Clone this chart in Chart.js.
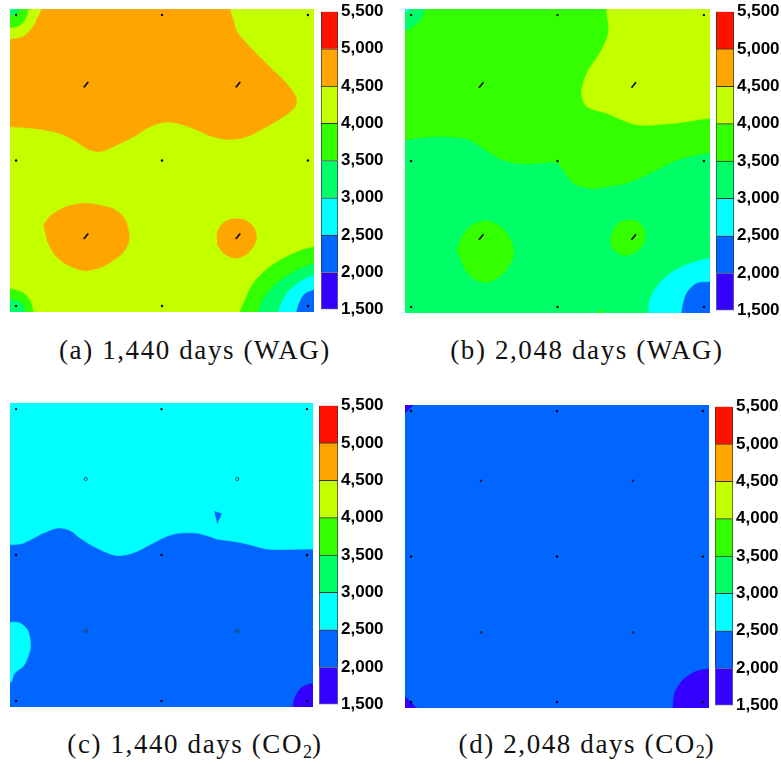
<!DOCTYPE html>
<html>
<head>
<meta charset="utf-8">
<script src="https://cdn.jsdelivr.net/npm/chart.js@4.4.1/dist/chart.umd.min.js"></script>
<style>
  body { margin: 0; background: #fff; width: 781px; height: 764px; position: relative; overflow: hidden; }
  .box { position: absolute; }
  .box canvas { display: block; }
  .cap {
    position: absolute; width: 390px; text-align: center; white-space: nowrap;
    font-family: 'Liberation Serif', 'Times New Roman', serif; font-size: 27px;
    letter-spacing: 1.6px; line-height: 30px; color: #111;
  }
  .cap sub { font-size: 18px; vertical-align: -5px; line-height: 0; letter-spacing: 0; }
</style>
</head>
<body>

<div class="box" style="left:10px;top:9px"><canvas id="mapA" width="304" height="303"></canvas></div>
<div class="box" style="left:321px;top:0px"><canvas id="barA" width="70" height="321"></canvas></div>
<div class="box" style="left:405px;top:9px"><canvas id="mapB" width="305" height="304"></canvas></div>
<div class="box" style="left:716px;top:0px"><canvas id="barB" width="65" height="322"></canvas></div>
<div class="box" style="left:10px;top:403px"><canvas id="mapC" width="303" height="304"></canvas></div>
<div class="box" style="left:319px;top:394px"><canvas id="barC" width="72" height="322"></canvas></div>
<div class="box" style="left:405px;top:405px"><canvas id="mapD" width="304" height="303"></canvas></div>
<div class="box" style="left:715px;top:395px"><canvas id="barD" width="66" height="322"></canvas></div>

<div class="cap" style="left:0px;top:335px">(a) 1,440 days (WAG)</div>
<div class="cap" style="left:392px;top:335px">(b) 2,048 days (WAG)</div>
<div class="cap" style="left:0px;top:729px">(c) 1,440 days (CO<sub>2</sub>)</div>
<div class="cap" style="left:392px;top:729px">(d) 2,048 days (CO<sub>2</sub>)</div>

<script>
'use strict';

// colour bands (contour levels)
const levels = [1500, 2000, 2500, 3000, 3500, 4000, 4500, 5000, 5500];
const bandColors = ['#3300FF', '#0066FF', '#00FFFF', '#00FF66', '#33FF00', '#C4FF00', '#FFA500', '#FF1100'];

// well locations (field coords 0..100)
const producers = [[2, 98], [50, 98], [98, 98], [2, 50], [50, 50], [98, 50], [2, 2], [50, 2], [98, 2]];
const injectors = [[25, 75], [75, 75], [25, 25], [75, 25]];

const fullField = [[-5, -5], [105, -5], [105, 105], [-5, 105]];

// ─── (a) 1,440 days WAG ─────────────────────────
const aOrangeTop = [[-5, 90], [0, 90], [4.4, 90.9], [7.7, 94.2], [9.3, 97.5], [10.4, 100], [10.6, 105], [72.4, 105],
  [72.4, 100], [73.5, 96.4], [74.6, 92.5], [80.0, 86.4], [86.6, 79.8], [91.0, 75.4], [94.0, 71.0], [93.8, 67.7],
  [89.9, 64.4], [84.4, 61.1], [77.9, 57.8], [72.4, 56.9], [66.9, 57.8], [60.3, 60.6], [54.8, 62.3], [50.4, 62.6],
  [45.0, 60.6], [40.6, 57.8], [35.1, 55.1], [29.6, 52.9], [25.2, 54.0], [21.9, 56.2], [16.4, 59.0], [7.7, 60.6],
  [0, 61.1], [-5, 61.1]];
const aGreenTL = [[-5, 93.8], [0, 93.8], [3, 94.5], [5, 96.5], [6, 100], [6, 105], [-5, 105]];
const aSpringTL = [[-5, 98], [0, 98], [2, 98.5], [3.3, 100], [3.3, 105], [-5, 105]];
const aOrangeLL = [[11.0, 28.6], [14.3, 32.5], [21.9, 35.6], [29.6, 35.2], [36.2, 32.5], [38.9, 27.0], [38.4, 21.5],
  [34.0, 17.1], [27.4, 14.0], [21.9, 14.3], [15.4, 18.2], [12.1, 23.7]];
const aOrangeLR = [[68.0, 25.9], [70.2, 29.4], [74.6, 30.8], [78.4, 29.7], [80.9, 25.9], [80.0, 21.5], [75.7, 18.0],
  [71.3, 18.7], [68.2, 22.0]];
const aGreenBR = [[105, 21.5], [100, 21.5], [93.2, 19.3], [85.5, 14.9], [80.0, 9.4], [77.3, 3.9], [75.7, 0], [75.7, -5], [105, -5]];
const aSpringBR = [[105, 16.0], [100, 16.0], [93.2, 13.2], [87.7, 9.4], [83.3, 4.4], [81.7, 0], [81.7, -5], [105, -5]];
const aCyanBR = [[105, 12.1], [100, 12.1], [95.4, 9.9], [91.0, 6.1], [88.3, 0], [88.3, -5], [105, -5]];
const aBlueBR = [[105, 7.2], [100, 7.2], [96.5, 5.5], [94.3, 0], [94.3, -5], [105, -5]];
const aGreenBL = [[-5, 7.6], [0, 7.6], [4, 6.5], [6.5, 4], [7.6, 0], [7.6, -5], [-5, -5]];
const aSpringBL = [[-5, 4], [0, 4], [3, 3.5], [4.5, 2], [5, 0], [5, -5], [-5, -5]];

// ─── (b) 2,048 days WAG ─────────────────────────
const bGreenTop = [[-5, 56.9], [0, 56.9], [6.0, 57.8], [14.8, 58.0], [21.3, 56.9], [25.7, 54.1], [31.1, 50.8],
  [36.6, 49.2], [43.2, 49.2], [49.7, 49.5], [51.9, 47.0], [55.2, 42.6], [60.7, 41.0], [66.1, 41.5], [73.8, 43.1],
  [82.5, 47.0], [89.1, 50.3], [95.6, 52.0], [100, 52.7], [105, 52.7], [105, 105], [-5, 105]];
const bYellowTR = [[66.1, 105], [66.1, 100], [66.7, 92.1], [63.9, 85.5], [59.6, 78.9], [57.9, 72.3], [59.6, 67.9],
  [66.1, 65.7], [76.0, 61.9], [88.0, 62.4], [100, 64.1], [105, 64.1], [105, 105]];
const bSpringTL = [[-5, 93], [0, 93], [3, 94.5], [5.5, 97], [6.6, 100], [6.6, 105], [-5, 105]];
const bCyanTL = [[-5, 99], [0, 99], [1.5, 100], [1.5, 105], [-5, 105]];
const bGreenLL = [[16.9, 20.7], [20.2, 27.3], [24.6, 30.0], [29.0, 29.7], [33.3, 26.2], [35.5, 20.7], [33.9, 15.2],
  [29.0, 10.8], [24.0, 10.5], [19.7, 14.1]];
const bGreenLR = [[67.2, 24.0], [69.4, 28.9], [73.2, 30.5], [77.0, 29.5], [78.7, 25.1], [76.5, 20.7], [71.6, 19.0],
  [67.8, 21.2]];
const bCyanBR = [[105, 17.9], [100, 17.9], [93.4, 16.3], [86.9, 13.0], [82.5, 8.6], [80.3, 4.2], [79.8, 0], [79.8, -5], [105, -5]];
const bBlueBR = [[105, 10.2], [100, 10.2], [95.6, 9.7], [92.3, 6.4], [90.7, 0], [90.7, -5], [105, -5]];
const bGreenBottom = [[63, -1], [64.5, 1.3], [66, -1]];

// ─── (c) 1,440 days CO2 ─────────────────────────
const cCyanTop = [[-5, 53.4], [0, 53.4], [4.4, 53.9], [11.0, 57.2], [15.9, 58.9], [19.8, 58.1], [23.1, 55.6],
  [28.6, 52.3], [35.2, 49.8], [40.7, 50.7], [46.2, 53.4], [51.6, 56.1], [56.0, 57.2], [61.5, 57.2], [65.9, 56.1],
  [68.1, 55.3], [73.6, 54.5], [79.1, 53.4], [84.6, 52.0], [90.1, 51.8], [100, 52.0], [105, 52.0], [105, 105], [-5, 105]];
const cBlueDrop = [[67.4, 64.4], [69.8, 63.6], [68.4, 60.3]];
const cCyanLeft = [[-5, 27.9], [0, 27.9], [3.3, 27.6], [6.0, 24.9], [6.8, 20.0], [6.0, 16.7], [4.4, 13.4],
  [1.6, 11.2], [0, 7.9], [-5, 7.9]];
const cVioletBR = [[105, 7.7], [100, 7.7], [96.2, 6.3], [94.0, 3.0], [93.4, 0], [93.4, -5], [105, -5]];

// ─── (d) 2,048 days CO2 ─────────────────────────
const dVioletBR = [[105, 12.9], [100, 12.9], [95.8, 12.1], [91.5, 9.3], [88.7, 4.9], [88.2, 0], [88.2, -5], [105, -5]];
const dVioletTL = [[-5, 105], [2.7, 105], [2.7, 100], [0, 97.3], [-5, 97.3]];
const dVioletBL = [[-5, 3.8], [0, 3.8], [3.8, 0], [3.8, -5], [-5, -5]];

const panels = [
  { map: 'mapA', bar: 'barA', axisW: 53, injStyle: 'slash',
    layers: [[5, fullField], [6, aOrangeTop], [4, aGreenTL], [3, aSpringTL], [6, aOrangeLL, 0.45], [6, aOrangeLR, 0.45],
      [4, aGreenBR], [3, aSpringBR], [2, aCyanBR], [1, aBlueBR], [4, aGreenBL], [3, aSpringBL]] },
  { map: 'mapB', bar: 'barB', axisW: 47, injStyle: 'slash',
    layers: [[3, fullField], [4, bGreenTop], [5, bYellowTR], [3, bSpringTL], [2, bCyanTL], [4, bGreenLL, 0.45],
      [4, bGreenLR, 0.45], [2, bCyanBR], [1, bBlueBR], [4, bGreenBottom, 0]] },
  { map: 'mapC', bar: 'barC', axisW: 53, injStyle: 'ring',
    layers: [[1, fullField], [2, cCyanTop], [1, cBlueDrop, 0], [2, cCyanLeft], [0, cVioletBR]] },
  { map: 'mapD', bar: 'barD', axisW: 48, injStyle: 'dot',
    layers: [[1, fullField], [0, dVioletBR], [0, dVioletTL, 0], [0, dVioletBL, 0]] }
];

const toXY = pts => pts.map(p => ({ x: p[0], y: p[1] }));

function wellDatasets(style) {
  const inj = style === 'slash'
    ? { pointStyle: 'line', rotation: -50, pointRadius: 3.5, borderColor: '#000', borderWidth: 1.6 }
    : style === 'ring'
      ? { pointStyle: 'circle', pointRadius: 1.6, borderColor: '#333', backgroundColor: 'rgba(0,0,0,0)', borderWidth: 0.8 }
      : { pointStyle: 'circle', pointRadius: 1.2, borderColor: '#222', backgroundColor: '#222', borderWidth: 0 };
  return [
    { data: toXY(producers), showLine: false, pointRadius: 1.2, pointBackgroundColor: '#000', pointBorderWidth: 0, order: -200 },
    Object.assign({ data: toXY(injectors), showLine: false, order: -201 }, inj, {
      pointBorderColor: inj.borderColor, pointBackgroundColor: inj.backgroundColor || inj.borderColor,
      pointBorderWidth: inj.borderWidth
    })
  ];
}

function renderMap(p) {
  const datasets = p.layers.map((l, i) => ({
    data: toXY(l[1]),
    showLine: true,
    fill: 'shape',
    tension: l[2] === undefined ? 0.3 : l[2],
    backgroundColor: bandColors[l[0]],
    borderColor: bandColors[l[0]],
    borderWidth: 0.5,
    pointRadius: 0,
    order: -i
  }));
  new Chart(document.getElementById(p.map), {
    type: 'scatter',
    data: { datasets: datasets.concat(wellDatasets(p.injStyle)) },
    options: {
      responsive: false,
      animation: false,
      events: [],
      layout: { padding: 0, autoPadding: false },
      elements: { line: { capBezierPoints: false } },
      plugins: { legend: { display: false }, tooltip: { enabled: false } },
      scales: {
        x: { type: 'linear', min: 0, max: 100, display: false },
        y: { type: 'linear', min: 0, max: 100, display: false }
      }
    }
  });
}

function renderColorbar(p) {
  const datasets = bandColors.map((c, i) => ({
    data: [[levels[i], levels[i + 1]]],
    backgroundColor: c,
    borderColor: i === 0 ? '#777' : '#333',
    borderWidth: { top: i === bandColors.length - 1 ? 0 : 1, bottom: i === 0 ? 1 : 0, left: 1, right: 1 },
    borderSkipped: false,
    grouped: false,
    barPercentage: 1,
    categoryPercentage: 1
  }));
  new Chart(document.getElementById(p.bar), {
    type: 'bar',
    data: { labels: [''], datasets },
    options: {
      responsive: false,
      animation: false,
      events: [],
      layout: { padding: { top: 9, bottom: 9, left: 0, right: 0 }, autoPadding: false },
      plugins: { legend: { display: false }, tooltip: { enabled: false } },
      scales: {
        x: { display: false },
        y: {
          position: 'right',
          min: 1500, max: 5500,
          grid: { display: false, drawTicks: false },
          border: { display: false },
          afterFit: s => { s.width = p.axisW; },
          ticks: {
            stepSize: 500,
            padding: 3,
            color: '#000',
            font: { family: "'Liberation Sans', Arial, sans-serif", size: 17, weight: 700, lineHeight: 1 },
            callback: v => v.toLocaleString('en-US')
          }
        }
      }
    }
  });
}

panels.forEach(p => { renderMap(p); renderColorbar(p); });
</script>
</body>
</html>
